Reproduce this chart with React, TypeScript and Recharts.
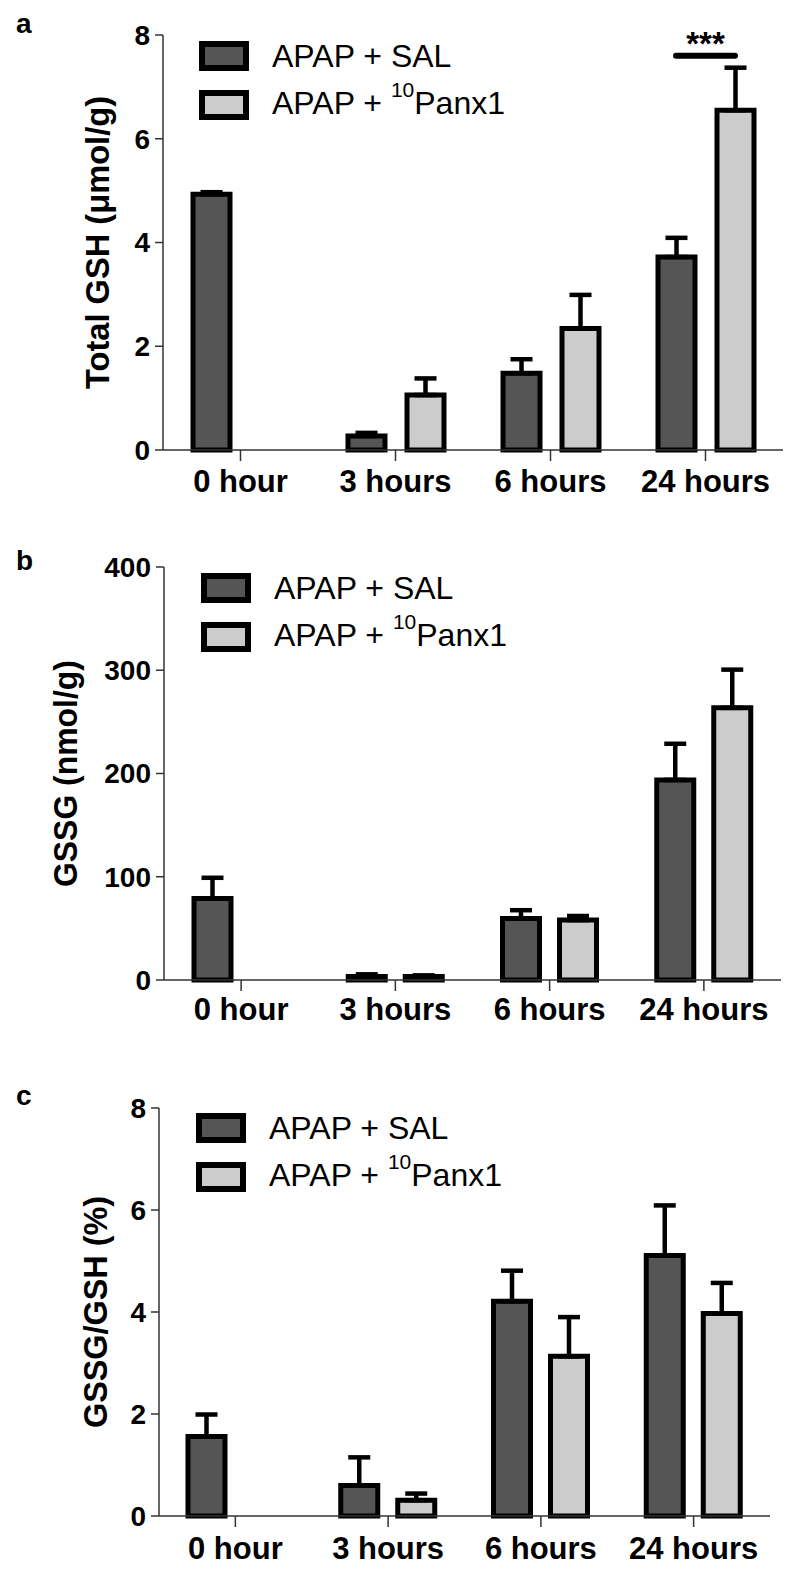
import { BarChart, Bar, XAxis, YAxis, ErrorBar, Legend, ReferenceLine, Label } from "recharts";

const FONT = "'Liberation Sans', Arial, Helvetica, sans-serif";
const DARK = "#555555";
const LIGHT = "#cccccc";
const BAR_SIZE = 37;

const categories = ["0 hour", "3 hours", "6 hours", "24 hours"];
const seriesNames = ["APAP + SAL", "APAP + 10Panx1"];
const legendParts = [
  { before: "APAP + SAL", sup: "", after: "" },
  { before: "APAP + ", sup: "10", after: "Panx1" },
];

// a: total GSH (µmol/g)
const gshSal = [4.93, 0.27, 1.48, 3.72];
const gshSalErr = [0.04, 0.06, 0.27, 0.37];
const gshPanx = [null, 1.06, 2.34, 6.55];
const gshPanxErr = [null, 0.32, 0.65, 0.82];
const gshTicks = [0, 2, 4, 6, 8];

// b: GSSG (nmol/g)
const gssgSal = [79, 3.5, 59.6, 193.8];
const gssgSalErr = [20, 2, 8, 35];
const gssgPanx = [null, 3.5, 58, 263.6];
const gssgPanxErr = [null, 1, 4, 37];
const gssgTicks = [0, 100, 200, 300, 400];

// c: GSSG/GSH (%)
const ratioSal = [1.56, 0.6, 4.21, 5.11];
const ratioSalErr = [0.43, 0.55, 0.6, 0.98];
const ratioPanx = [null, 0.31, 3.13, 3.97];
const ratioPanxErr = [null, 0.13, 0.77, 0.6];
const ratioTicks = [0, 2, 4, 6, 8];

// significance bar on panel a
const sigCategory = "24 hours";
const sigY = 7.6;
const sigText = "***";

const buildRows = (sal: (number | null)[], salErr: (number | null)[], panx: (number | null)[], panxErr: (number | null)[]) =>
  categories.map((name, i) => ({
    name,
    sal: sal[i],
    salErr: salErr[i] != null ? [0, salErr[i]] : undefined,
    panx: panx[i],
    panxErr: panxErr[i] != null ? [0, panxErr[i]] : undefined,
  }));

const LegendContent = () => (
  <div style={{ fontFamily: FONT, fontSize: 32, color: "#000" }}>
    {legendParts.map((p, i) => (
      <div key={i} style={{ display: "flex", alignItems: "center", height: 49 }}>
        <div
          style={{
            width: 50,
            height: 30,
            boxSizing: "border-box",
            border: "6px solid #000",
            background: i === 0 ? DARK : LIGHT,
          }}
        />
        <span style={{ marginLeft: 23, lineHeight: "32px", whiteSpace: "pre" }}>
          {p.before}
          {p.sup && <span style={{ fontSize: 21, position: "relative", top: -17 }}>{p.sup}</span>}
          {p.after}
        </span>
      </div>
    ))}
  </div>
);

interface PanelProps {
  top: number;
  height: number;
  margin: { top: number; right: number; bottom: number; left: number };
  yWidth: number;
  xHeight: number;
  barGap: number;
  legendLeft: number;
  legendTop: number;
  labelOffset: number;
  labelLength: number;
  ylabel: string;
  ticks: number[];
  rows: any[];
  tickGap: number;
  sig?: boolean;
}

const Panel = (p: PanelProps) => {
  const half = (BAR_SIZE + p.barGap) / 2;
  return (
    <div style={{ position: "absolute", left: 0, top: p.top }}>
      <BarChart width={800} height={p.height} data={p.rows} margin={p.margin} barGap={p.barGap} barSize={BAR_SIZE}>
        <XAxis
          dataKey="name"
          height={p.xHeight}
          axisLine={{ stroke: "#333", strokeWidth: 1.5 }}
          tickLine={{ stroke: "#333", strokeWidth: 1.5 }}
          tickSize={11}
          tickMargin={p.tickGap}
          tick={{ fill: "#000", fontSize: 31, fontWeight: "bold", fontFamily: FONT }}
          interval={0}
        />
        <YAxis
          width={p.yWidth}
          domain={[p.ticks[0], p.ticks[p.ticks.length - 1]]}
          ticks={p.ticks}
          interval={0}
          axisLine={{ stroke: "#333", strokeWidth: 1.5 }}
          tickLine={{ stroke: "#333", strokeWidth: 1.5 }}
          tickSize={8}
          tickMargin={5}
          tick={{ fill: "#000", fontSize: 28, fontWeight: "bold", fontFamily: FONT }}
        >
          <Label
            value={p.ylabel}
            angle={-90}
            position="insideLeft"
            offset={p.labelOffset}
            textLength={p.labelLength}
            lengthAdjust="spacingAndGlyphs"
            style={{ textAnchor: "middle", fontSize: 34, fontWeight: "bold", fontFamily: FONT, fill: "#000" }}
          />
        </YAxis>
        <Legend
          layout="vertical"
          align="center"
          verticalAlign="middle"
          content={() => <LegendContent />}
          wrapperStyle={{ left: p.legendLeft, top: p.legendTop, width: "auto" }}
        />
        <Bar dataKey="sal" name={seriesNames[0]} fill={DARK} stroke="#000" strokeWidth={5} isAnimationActive={false}>
          <ErrorBar dataKey="salErr" direction="y" width={11} stroke="#000" strokeWidth={4.5} isAnimationActive={false} />
        </Bar>
        <Bar dataKey="panx" name={seriesNames[1]} fill={LIGHT} stroke="#000" strokeWidth={5} isAnimationActive={false}>
          <ErrorBar dataKey="panxErr" direction="y" width={11} stroke="#000" strokeWidth={4.5} isAnimationActive={false} />
        </Bar>
        {p.sig && (
          <ReferenceLine
            segment={[
              { x: sigCategory, y: sigY },
              { x: sigCategory, y: sigY },
            ]}
            ifOverflow="visible"
            shape={(s: any) => (
              <g>
                <line
                  x1={s.x1 - half}
                  y1={s.y1}
                  x2={s.x1 + half}
                  y2={s.y1}
                  stroke="#000"
                  strokeWidth={6}
                  strokeLinecap="round"
                />
                <text x={s.x1} y={s.y1 - 1} textAnchor="middle" fontSize={33} fontWeight="bold" fontFamily={FONT} fill="#000">
                  {sigText}
                </text>
              </g>
            )}
          />
        )}
      </BarChart>
    </div>
  );
};

const letterStyle = (top: number) => ({
  position: "absolute" as const,
  left: 16,
  top,
  fontFamily: FONT,
  fontWeight: "bold" as const,
  fontSize: 28,
  color: "#000",
  lineHeight: "28px",
});

export default function App() {
  return (
    <div style={{ position: "absolute", left: 0, top: 0, width: 800, height: 1572, background: "#fff", overflow: "hidden" }}>
      <div style={letterStyle(10)}>a</div>
      <div style={letterStyle(547)}>b</div>
      <div style={letterStyle(1082)}>c</div>
      <Panel
        top={0}
        height={520}
        margin={{ top: 35, right: 17, bottom: 20, left: 0 }}
        yWidth={163}
        xHeight={50}
        barGap={22}
        legendLeft={199}
        legendTop={31}
        labelOffset={97}
        labelLength={293}
        ylabel="Total GSH (μmol/g)"
        ticks={gshTicks}
        rows={buildRows(gshSal, gshSalErr, gshPanx, gshPanxErr)}
        tickGap={9}
        sig
      />
      <Panel
        top={530}
        height={520}
        margin={{ top: 37, right: 19, bottom: 20, left: 0 }}
        yWidth={164}
        xHeight={50}
        barGap={20}
        legendLeft={201}
        legendTop={33}
        labelOffset={65}
        labelLength={227}
        ylabel="GSSG (nmol/g)"
        ticks={gssgTicks}
        rows={buildRows(gssgSal, gssgSalErr, gssgPanx, gssgPanxErr)}
        tickGap={7}
      />
      <Panel
        top={1060}
        height={512}
        margin={{ top: 48, right: 30, bottom: 11, left: 0 }}
        yWidth={159}
        xHeight={45}
        barGap={20}
        legendLeft={196}
        legendTop={43}
        labelOffset={95}
        labelLength={232}
        ylabel="GSSG/GSH (%)"
        ticks={ratioTicks}
        rows={buildRows(ratioSal, ratioSalErr, ratioPanx, ratioPanxErr)}
        tickGap={10}
      />
    </div>
  );
}
